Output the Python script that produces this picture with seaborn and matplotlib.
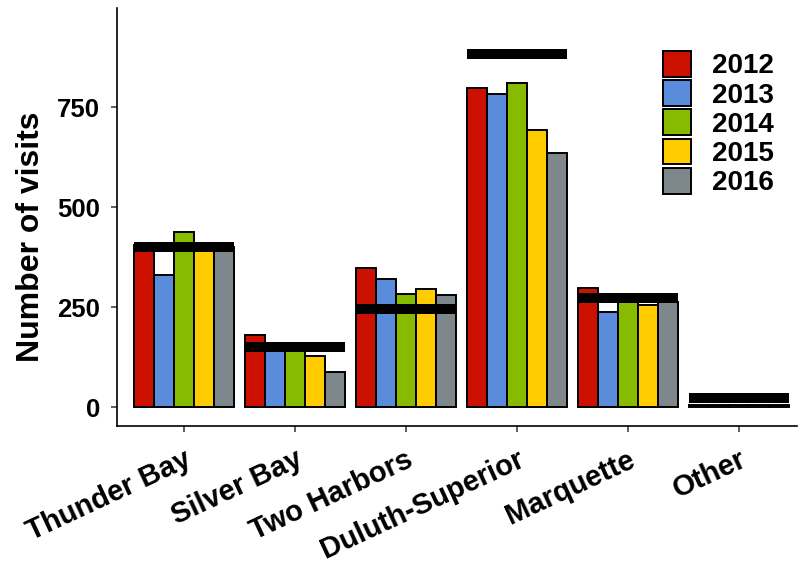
import matplotlib
matplotlib.use("Agg")
import matplotlib.pyplot as plt
import seaborn as sns
import numpy as np
import pandas as pd

# data
ports = ["Thunder Bay", "Silver Bay", "Two Harbors", "Duluth-Superior",
         "Marquette", "Other"]
years = ["2012", "2013", "2014", "2015", "2016"]
visits_2012 = [405, 180, 347, 797, 297, 5]
visits_2013 = [330, 150, 319, 782, 238, 5]
visits_2014 = [438, 150, 282, 809, 262, 5]
visits_2015 = [400, 127, 296, 692, 254, 5]
visits_2016 = [400, 87, 279, 636, 262, 5]
reference_level = [401, 151, 245, 883, 272, 22]

year_colors = ["#CC1100", "#5B8BDB", "#86BB00", "#FFCC00", "#7E878C"]

sns.set_style("ticks")
plt.rcParams["font.family"] = ["Liberation Sans", "DejaVu Sans"]
plt.rcParams["font.weight"] = "bold"
for key in ["text.color", "axes.labelcolor", "xtick.color", "ytick.color"]:
    plt.rcParams[key] = "black"

df = pd.DataFrame({
    "port": np.repeat(ports, len(years)),
    "year": years * len(ports),
    "visits": np.column_stack([visits_2012, visits_2013, visits_2014,
                               visits_2015, visits_2016]).ravel(),
})

fig = plt.figure(figsize=(7.98, 5.77), dpi=100)
ax = fig.add_axes([0.1466, 0.2617, 0.8516, 0.7244])

sns.barplot(data=df, x="port", y="visits", hue="year", order=ports,
            hue_order=years, palette=year_colors, saturation=1, width=0.9,
            edgecolor="black", linewidth=1.4, errorbar=None, ax=ax)

# thick black reference bars across each group
xpos = np.arange(len(ports))
ax.hlines(reference_level, xpos - 0.45, xpos + 0.45, colors="black",
          linewidth=7.2, capstyle="butt", zorder=5)

ax.set_xlim(-0.6, 5.52)
ax.set_ylim(-47.5, 997.5)
ax.set_yticks([0, 250, 500, 750])
ax.set_xlabel("")
ax.set_ylabel("Number of visits", fontsize=23, fontweight="bold")
ax.yaxis.set_label_coords(-0.104, 0.452)

sns.despine(ax=ax)
for side in ["left", "bottom"]:
    ax.spines[side].set_linewidth(1.2)
    ax.spines[side].set_color("black")
ax.tick_params(axis="both", length=4, width=1.1, color="#333333")
ax.tick_params(axis="y", labelsize=18.5, pad=8)
ax.tick_params(axis="x", labelsize=21, pad=10)
for lab in ax.get_yticklabels():
    lab.set_fontweight("bold")
for lab in ax.get_xticklabels():
    lab.set_fontweight("bold")
    lab.set_rotation(25)
    lab.set_ha("right")
    lab.set_va("top")
    lab.set_rotation_mode("anchor")

leg = ax.legend(loc="upper left", bbox_to_anchor=(663 / 798, 1 - 51 / 577),
                bbox_transform=fig.transFigure, frameon=False, fontsize=20,
                handlelength=1.0, handleheight=1.05, labelspacing=0.03,
                handletextpad=0.75, borderpad=0, borderaxespad=0)
for t in leg.get_texts():
    t.set_fontweight("bold")

fig.savefig("out.png", dpi=100)
